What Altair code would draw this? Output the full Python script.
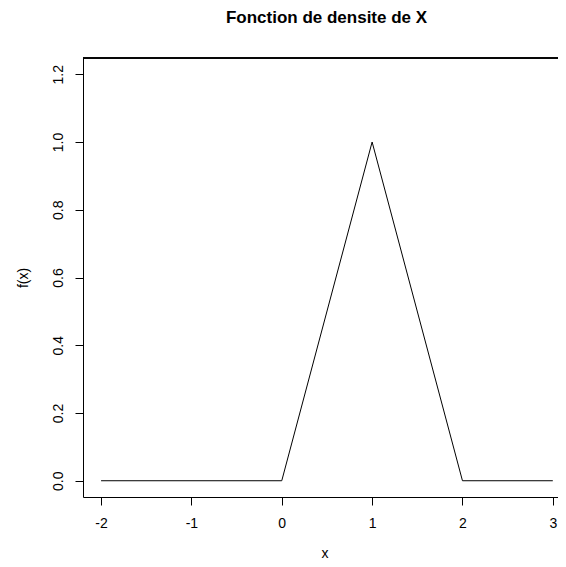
import altair as alt
import pandas as pd

xs = [-2, 0, 1, 2, 3]
fx = [0, 0, 1, 0, 0]
x_ticks = [-2, -1, 0, 1, 2, 3]
y_ticks = [0.0, 0.2, 0.4, 0.6, 0.8, 1.0, 1.2]

df = pd.DataFrame({"x": xs, "fx": fx})

FONT = "Liberation Sans"
W, H = 483, 439

line = alt.Chart(df).mark_line(color="black", strokeWidth=1).encode(
    x=alt.X("x:Q",
            scale=alt.Scale(domain=[-2.2, 3.146], nice=False, zero=False),
            axis=alt.Axis(values=x_ticks, title="x", grid=False,
                          labelExpr="datum.value + ''",
                          tickSize=8, labelPadding=11, titlePadding=16,
                          domainColor="black", tickColor="black",
                          labelFont=FONT, titleFont=FONT, labelFontSize=14,
                          titleFontSize=14, titleFontWeight="normal",
                          labelColor="black", titleColor="black")),
    y=alt.Y("fx:Q",
            scale=alt.Scale(domain=[-0.048, 1.248], nice=False, zero=False),
            axis=alt.Axis(values=y_ticks, title="f(x)", grid=False,
                          format=".1f", labelAngle=270, labelAlign="center",
                          labelBaseline="bottom",
                          tickSize=8, labelPadding=10, titlePadding=21,
                          domainColor="black", tickColor="black",
                          labelFont=FONT, titleFont=FONT, labelFontSize=14,
                          titleFontSize=14, titleFontWeight="normal",
                          labelColor="black", titleColor="black")),
)

top_border = alt.Chart(df).mark_rule(color="black", strokeWidth=1).encode(
    x=alt.value(0), x2=alt.value(W), y=alt.value(0)
)

chart = alt.layer(line, top_border).properties(
    width=W, height=H,
    title=alt.TitleParams("Fonction de densite de X", font=FONT, fontSize=17,
                          fontWeight="bold", color="black", offset=31,
                          anchor="middle", dx=2),
    autosize=alt.AutoSizeParams(type="none"),
    padding={"left": 75, "top": 50, "right": -8, "bottom": 62},
).configure_view(stroke=None)

chart.save("out.html", embed_options={"renderer": "svg", "actions": False})
